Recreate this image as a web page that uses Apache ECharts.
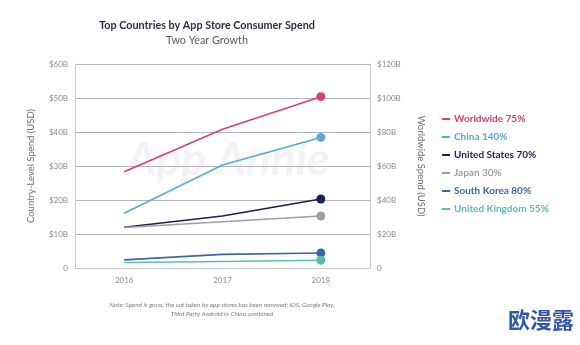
<!DOCTYPE html>
<html>
<head>
<meta charset="utf-8">
<style>
  html, body { margin: 0; padding: 0; background: #ffffff; }
  #chart { width: 580px; height: 345px; }
</style>
<script src="https://cdn.jsdelivr.net/npm/echarts@6/dist/echarts.min.js"></script>
</head>
<body>
<div id="chart"></div>
<script>
// Consumer spend by year, in billions of USD
const years = ['2016', '2017', '2018'];
const worldwide = [56.6, 81.6, 100.8];   // right axis
const china = [16.1, 30.3, 38.4];
const unitedStates = [12.0, 15.3, 20.3];
const japan = [11.9, 13.6, 15.3];
const southKorea = [2.4, 4.0, 4.4];
const unitedKingdom = [1.6, 1.9, 2.3];

const leftTicks = [0, 10, 20, 30, 40, 50, 60];
const rightTicks = [0, 20, 40, 60, 80, 100, 120];

const seriesDefs = [
  { name: 'Worldwide 75%', data: worldwide, color: '#d8416c', axis: 1 },
  { name: 'China 140%', data: china, color: '#5aa9da', axis: 0 },
  { name: 'United States 70%', data: unitedStates, color: '#1a2150', axis: 0 },
  { name: 'Japan 30%', data: japan, color: '#9c9ea9', axis: 0 },
  { name: 'South Korea 80%', data: southKorea, color: '#3a66ae', axis: 0 },
  { name: 'United Kingdom 55%', data: unitedKingdom, color: '#5bbdae', axis: 0 }
];

const fmt = v => (v === 0 ? '0' : '$' + v + 'B');
const axisLabelStyle = { color: '#8a8c94', fontSize: 8, fontFamily: 'Lato' };
const axisNameStyle = { color: '#6e7078', fontSize: 9.5, fontFamily: 'Lato' };

const chart = echarts.init(document.getElementById('chart'));
chart.setOption({
  animation: false,
  backgroundColor: '#ffffff',
  title: [
    {
      text: 'Top Countries by App Store Consumer Spend',
      left: 202, top: 15, textAlign: 'center',
      textStyle: { color: '#2a2e48', fontSize: 10.8, fontWeight: 'bold', fontFamily: 'Lato' }
    },
    {
      text: 'Two Year Growth',
      left: 202, top: 30, textAlign: 'center',
      textStyle: { color: '#555a6c', fontSize: 10.8, fontWeight: 'normal', fontFamily: 'Lato' }
    }
  ],
  grid: { left: 75, right: 210, top: 64, bottom: 77 },
  legend: {
    orient: 'vertical',
    left: 442, top: 113, padding: 0,
    icon: 'rect', itemWidth: 8, itemHeight: 2, itemGap: 6,
    selectedMode: false,
    data: seriesDefs.map(s => ({
      name: s.name,
      itemStyle: { color: s.color },
      textStyle: { color: s.color }
    })),
    textStyle: { fontSize: 10, fontWeight: 'bold', fontFamily: 'Lato', lineHeight: 12, padding: [0, 0, 0, -1] }
  },
  xAxis: {
    type: 'category',
    data: years,
    boundaryGap: true,
    axisLine: { show: true, lineStyle: { color: '#c8c9cd' } },
    axisTick: { show: false },
    axisLabel: Object.assign({ margin: 8 }, axisLabelStyle)
  },
  yAxis: [
    {
      type: 'value', min: leftTicks[0], max: leftTicks[leftTicks.length - 1], interval: 10,
      name: 'Country-Level Spend (USD)', nameLocation: 'middle', nameGap: 39, nameRotate: 90,
      nameTextStyle: axisNameStyle,
      axisLine: { show: true, lineStyle: { color: '#c8c9cd' } },
      axisTick: { show: false },
      axisLabel: Object.assign({ formatter: fmt, margin: 7 }, axisLabelStyle),
      splitLine: { show: true, lineStyle: { color: '#b4b5ba', width: 1 } }
    },
    {
      type: 'value', min: rightTicks[0], max: rightTicks[rightTicks.length - 1], interval: 20,
      position: 'right',
      name: 'Worldwide Spend (USD)', nameLocation: 'middle', nameGap: 46, nameRotate: -90,
      nameTextStyle: axisNameStyle,
      axisLine: { show: true, lineStyle: { color: '#c8c9cd' } },
      axisTick: { show: false },
      axisLabel: Object.assign({ formatter: fmt, margin: 7 }, axisLabelStyle),
      splitLine: { show: false }
    }
  ],
  series: seriesDefs.map(s => ({
    name: s.name,
    type: 'line',
    yAxisIndex: s.axis,
    data: s.data.map((v, i) => i === s.data.length - 1
      ? { value: v, symbol: 'circle', symbolSize: 9 }
      : { value: v, symbol: 'none' }),
    showSymbol: true,
    color: s.color,
    lineStyle: { width: 1.6, color: s.color },
    itemStyle: { color: s.color },
    z: 3
  })),
  graphic: [
    {
      type: 'text', x: 228, y: 160, z: -1, silent: true,
      style: {
        text: 'App Annie', fill: '#f3f3f5',
        align: 'center', verticalAlign: 'middle',
        font: 'italic bold 46px Lato'
      }
    },
    {
      type: 'text', x: 222, y: 300, silent: true,
      style: {
        text: 'Note: Spend is gross, the cut taken by app stores has been removed; iOS, Google Play,\nThird Party Android in China combined',
        fill: '#7a7c84', align: 'center',
        font: 'italic 6.4px Lato', lineHeight: 9
      }
    },
    {
      type: 'text', right: 6, top: 309, silent: true,
      style: {
        text: '欧漫露', fill: '#3157a8',
        font: 'bold 22px "Noto Sans CJK SC"'
      }
    }
  ]
});
</script>
</body>
</html>
